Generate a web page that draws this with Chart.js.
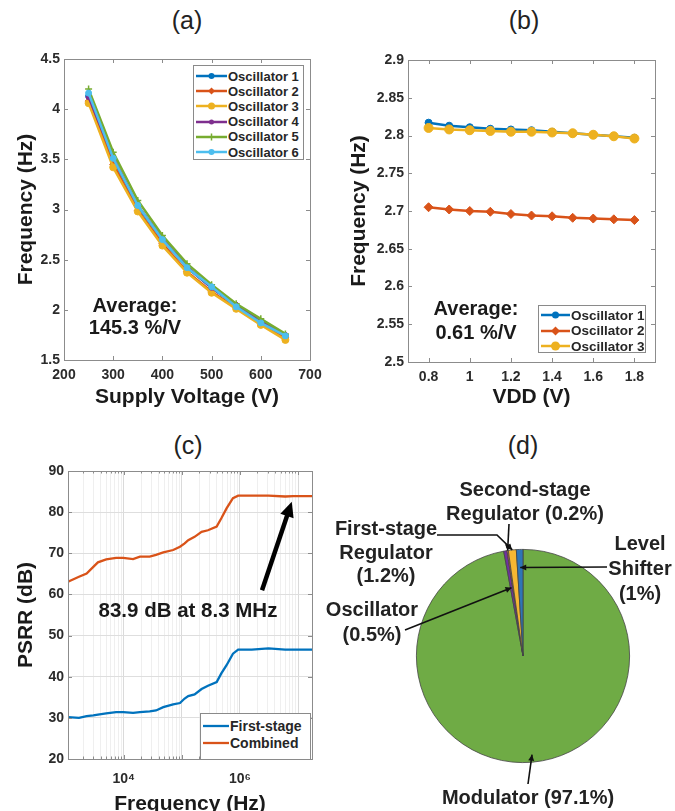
<!DOCTYPE html>
<html>
<head>
<meta charset="utf-8">
<script src="https://cdn.jsdelivr.net/npm/chart.js@4.4.1/dist/chart.umd.min.js"></script>
<style>
  html, body { margin: 0; padding: 0; background: #fff; }
  body { width: 675px; height: 811px; position: relative; overflow: hidden;
         font-family: "Liberation Sans", Arial, sans-serif; color: #1a1a1a; }
  .panel { position: absolute; }
  .ptitle { position: absolute; font-size: 25px; transform: translate(-50%, -50%); white-space: nowrap; color: #222; }
  .note { position: absolute; font-weight: bold; transform: translate(-50%, -50%); white-space: nowrap; text-align: center; color: #1a1a1a; }
  .legend { position: absolute; border: 1px solid #8a8a8a; background: #fff; box-sizing: border-box; font-weight: bold; color: #262626; }
  .legend .row { display: flex; align-items: center; white-space: nowrap; }
  .pielabel { position: absolute; font-weight: bold; font-size: 20px; text-align: center; transform: translate(-50%, -50%);
              line-height: 24px; white-space: nowrap; color: #222; }
</style>
</head>
<body>

<div class="ptitle" style="left:187px; top:20px">(a)</div>
<div class="ptitle" style="left:524px; top:20px">(b)</div>
<div class="ptitle" style="left:188px; top:445px">(c)</div>
<div class="ptitle" style="left:523px; top:445px">(d)</div>

<div class="panel" id="boxA" style="left:0px; top:40px; width:335px; height:370px"><canvas id="chartA"></canvas></div>
<div class="panel" id="boxB" style="left:340px; top:40px; width:335px; height:370px"><canvas id="chartB"></canvas></div>
<div class="panel" id="boxC" style="left:0px; top:440px; width:335px; height:380px"><canvas id="chartC"></canvas></div>
<div class="panel" id="boxD" style="left:340px; top:440px; width:335px; height:371px"><canvas id="chartD"></canvas></div>

<div class="note" style="left:135px; top:316px; font-size:20px; line-height:22px">Average:<br>145.3 %/V</div>
<div class="note" style="left:476px; top:320px; font-size:20px; line-height:24px">Average:<br>0.61 %/V</div>
<div class="note" style="left:188px; top:610px; font-size:20.5px">83.9 dB at 8.3 MHz</div>

<div class="pielabel" style="left:525px; top:501px">Second-stage<br>Regulator (0.2%)</div>
<div class="pielabel" style="left:386px; top:552px; line-height:23.5px">First-stage<br>Regulator<br>(1.2%)</div>
<div class="pielabel" style="left:372px; top:622px; line-height:25px">Oscillator<br>(0.5%)</div>
<div class="pielabel" style="left:640px; top:568px; line-height:25px">Level<br>Shifter<br>(1%)</div>
<div class="pielabel" style="left:528px; top:797px">Modulator (97.1%)</div>

<script>
// (a) frequency vs supply voltage
const supplyV = [250, 300, 350, 400, 450, 500, 550, 600, 650];
const oscA1 = [4.13, 3.50, 3.03, 2.70, 2.42, 2.22, 2.04, 1.88, 1.74];
const oscA2 = [4.08, 3.45, 2.99, 2.66, 2.38, 2.18, 2.02, 1.86, 1.72];
const oscA3 = [4.06, 3.42, 2.98, 2.64, 2.37, 2.17, 2.01, 1.85, 1.70];
const oscA4 = [4.12, 3.52, 3.04, 2.71, 2.43, 2.22, 2.05, 1.89, 1.75];
const oscA5 = [4.20, 3.57, 3.09, 2.74, 2.46, 2.25, 2.06, 1.91, 1.76];
const oscA6 = [4.16, 3.51, 3.04, 2.70, 2.42, 2.23, 2.03, 1.87, 1.74];
const aXTicks = [200, 300, 400, 500, 600, 700];
const aYTicks = [1.5, 2, 2.5, 3, 3.5, 4, 4.5];

// (b) frequency vs VDD
const vdd = [0.8, 0.9, 1.0, 1.1, 1.2, 1.3, 1.4, 1.5, 1.6, 1.7, 1.8];
const oscB1 = [2.817, 2.813, 2.811, 2.809, 2.808, 2.807, 2.805, 2.803, 2.801, 2.799, 2.797];
const oscB2 = [2.705, 2.702, 2.700, 2.699, 2.696, 2.694, 2.693, 2.691, 2.690, 2.689, 2.688];
const oscB3 = [2.810, 2.808, 2.807, 2.806, 2.805, 2.805, 2.804, 2.803, 2.801, 2.799, 2.796];
const bXTicks = [0.8, 1, 1.2, 1.4, 1.6, 1.8];
const bYTicks = [2.5, 2.55, 2.6, 2.65, 2.7, 2.75, 2.8, 2.85, 2.9];
const bYLabels = ['2.5', '2.55', '2.6', '2.65', '2.7', '2.75', '2.8', '2.85', '2.9'];

// (c) PSRR
const psrrFreq = [1100, 1700, 2300, 3000, 3600, 5000, 7400, 9800, 14500, 19000, 28000, 36000, 48000,
                  71000, 93000, 112000, 129000, 166000, 219000, 282000, 398000, 479000, 589000,
                  759000, 933000, 1.6e6, 3.1e6, 6e6, 8.3e6, 1.1e7, 1.74e7];
const psrrFirst = [30.2, 30.0, 30.4, 30.6, 30.8, 31.1, 31.4, 31.4, 31.2, 31.4, 31.6, 31.8, 32.6,
                   33.3, 33.6, 34.7, 35.3, 35.7, 37.0, 37.8, 38.7, 40.8, 42.8,
                   45.6, 46.6, 46.6, 46.9, 46.6, 46.6, 46.6, 46.6];
const psrrCombined = [63.1, 64.3, 65.1, 66.7, 67.8, 68.5, 68.9, 68.9, 68.6, 69.2, 69.2, 69.6, 70.2,
                      70.8, 71.6, 72.4, 73.2, 74.0, 75.2, 75.6, 76.5, 78.5, 80.9,
                      83.4, 84.0, 84.0, 84.0, 83.8, 83.9, 83.9, 83.9];
const cXTicks = [1e4, 1e6];
const cXTickLabels = ['10\u2074', '10\u2076'];
const cYTicks = [20, 30, 40, 50, 60, 70, 80, 90];
const arrowFrom = [2.4e6, 61];
const arrowTo = [7.8e6, 82.5];

// (d) power breakdown, clockwise from 12 o'clock
const pieLabels = ['Modulator', 'Oscillator', 'Second-stage Regulator', 'First-stage Regulator', 'Level Shifter'];
const piePct = [97.1, 0.5, 0.2, 1.2, 1.0];
const pieColors = ['#6fab45', '#7030a0', '#e8702a', '#f6b732', '#2e75b6'];
// leader line start points (page px) and how deep into the slice they reach
const pieLeaderPaths = [[[528, 784]], [[405, 630]], [[509, 524]], [[437, 535], [497, 535]], [[607, 567]]];
const pieLeaderDepth = [0.93, 0.65, 1.0, 1.0, 0.83];

const mColors = ['#0072BD', '#D95319', '#EDB120', '#7E2F8E', '#77AC30', '#4DBEEE'];

Chart.defaults.font.family = '"Liberation Sans", Arial, sans-serif';
Chart.defaults.color = '#2b2b2b';
Chart.defaults.animation = false;

function pts(xs, ys) {
    return xs.map((x, i) => ({ x: x, y: ys[i] }));
}

function fixedTicks(values) {
    return scale => { scale.ticks = values.map(v => ({ value: v, major: true })); };
}

function arrowHead(ctx, fx, fy, tx, ty, len, half) {
    const a = Math.atan2(ty - fy, tx - fx);
    ctx.beginPath();
    ctx.moveTo(tx, ty);
    ctx.lineTo(tx - len * Math.cos(a) + half * Math.sin(a), ty - len * Math.sin(a) - half * Math.cos(a));
    ctx.lineTo(tx - len * Math.cos(a) - half * Math.sin(a), ty - len * Math.sin(a) + half * Math.cos(a));
    ctx.closePath();
    ctx.fill();
}

// matlab style box with inward ticks
const frameTicks = {
    id: 'frameTicks',
    afterDraw(chart) {
        const { ctx, chartArea: a } = chart;
        const xs = chart.scales.x, ys = chart.scales.y;
        ctx.save();
        ctx.strokeStyle = '#8c8c8c';
        ctx.lineWidth = 1;
        ctx.beginPath();
        xs.ticks.forEach(t => {
            const px = Math.round(xs.getPixelForValue(t.value)) + 0.5;
            const len = t.major ? 4 : 2.5;
            ctx.moveTo(px, a.bottom); ctx.lineTo(px, a.bottom - len);
            ctx.moveTo(px, a.top); ctx.lineTo(px, a.top + len);
        });
        ys.ticks.forEach(t => {
            const py = Math.round(ys.getPixelForValue(t.value)) + 0.5;
            ctx.moveTo(a.left, py); ctx.lineTo(a.left + 4, py);
            ctx.moveTo(a.right, py); ctx.lineTo(a.right - 4, py);
        });
        ctx.stroke();
        ctx.strokeRect(Math.round(a.left) + 0.5, Math.round(a.top) + 0.5,
                       Math.round(a.right - a.left), Math.round(a.bottom - a.top));
        ctx.restore();
    }
};

const psrrArrow = {
    id: 'psrrArrow',
    afterDatasetsDraw(chart) {
        const { ctx, scales: { x, y } } = chart;
        const x0 = x.getPixelForValue(arrowFrom[0]), y0 = y.getPixelForValue(arrowFrom[1]);
        const x1 = x.getPixelForValue(arrowTo[0]), y1 = y.getPixelForValue(arrowTo[1]);
        const a = Math.atan2(y1 - y0, x1 - x0);
        ctx.save();
        ctx.strokeStyle = '#000';
        ctx.fillStyle = '#000';
        ctx.lineWidth = 4.5;
        ctx.beginPath();
        ctx.moveTo(x0, y0);
        ctx.lineTo(x1 - 12 * Math.cos(a), y1 - 12 * Math.sin(a));
        ctx.stroke();
        arrowHead(ctx, x0, y0, x1, y1, 15, 7);
        ctx.restore();
    }
};

const pieLeaders = {
    id: 'pieLeaders',
    afterDatasetsDraw(chart) {
        const { ctx } = chart;
        const box = chart.canvas.parentNode;
        const offX = box.offsetLeft, offY = box.offsetTop;
        const arcs = chart.getDatasetMeta(0).data;
        ctx.save();
        ctx.strokeStyle = '#111';
        ctx.fillStyle = '#111';
        ctx.lineWidth = 1.6;
        pieLeaderPaths.forEach((path, i) => {
            const p = arcs[i].getProps(['x', 'y', 'startAngle', 'endAngle', 'outerRadius'], true);
            const mid = (p.startAngle + p.endAngle) / 2;
            const r = p.outerRadius * pieLeaderDepth[i];
            const tx = p.x + r * Math.cos(mid), ty = p.y + r * Math.sin(mid);
            const q = path.map(([px, py]) => [px - offX, py - offY]);
            ctx.beginPath();
            ctx.moveTo(q[0][0], q[0][1]);
            q.slice(1).forEach(s => ctx.lineTo(s[0], s[1]));
            ctx.lineTo(tx, ty);
            ctx.stroke();
            const last = q[q.length - 1];
            arrowHead(ctx, last[0], last[1], tx, ty, 6, 3);
        });
        ctx.restore();
    }
};

function legendSwatch(ds, w) {
    const c = ds.borderColor, m = w / 2, r = ds.pointRadius;
    let mk = '';
    if (r > 0 && ds.pointStyle === 'rectRot') {
        mk = `<polygon points="${m},${5 - r} ${m + r},5 ${m},${5 + r} ${m - r},5" fill="${c}"/>`;
    } else if (r > 0 && ds.pointStyle === 'cross') {
        mk = `<path d="M${m - r} 5H${m + r}M${m} ${5 - r}V${5 + r}" stroke="${c}" stroke-width="1.5"/>`;
    } else if (r > 0) {
        mk = `<circle cx="${m}" cy="5" r="${r}" fill="${c}"/>`;
    }
    return `<svg width="${w}" height="10" style="margin-left:2px;margin-right:1px;flex:none">` +
        `<line x1="0" y1="5" x2="${w}" y2="5" stroke="${c}" stroke-width="${ds.borderWidth}"/>` + mk + `</svg>`;
}

function htmlLegend(chart, b) {
    const el = document.createElement('div');
    el.className = 'legend';
    Object.assign(el.style, {
        left: b.left + 'px', top: b.top + 'px', width: b.w + 'px', height: b.h + 'px',
        paddingTop: b.pad + 'px', fontSize: b.font + 'px'
    });
    chart.data.datasets.forEach(ds => {
        const row = document.createElement('div');
        row.className = 'row';
        row.style.height = b.row + 'px';
        row.innerHTML = legendSwatch(ds, b.sw) + `<span>${ds.label}</span>`;
        el.appendChild(row);
    });
    document.body.appendChild(el);
}

function lineSet(label, xs, ys, color, style, radius, order, width) {
    return {
        label: label, data: pts(xs, ys), borderColor: color, backgroundColor: color,
        borderWidth: width || 2.5, pointStyle: style, pointRadius: radius, pointBorderWidth: style === 'cross' ? 1.5 : 1,
        pointBorderColor: color, pointBackgroundColor: color, tension: 0, order: order
    };
}

function xyOptions(s) {
    return {
        responsive: true,
        maintainAspectRatio: false,
        devicePixelRatio: 1,
        layout: { padding: { top: s.padTop, right: s.padRight, left: 0, bottom: 0 } },
        plugins: { legend: { display: false }, tooltip: { enabled: false } },
        scales: {
            x: Object.assign({
                min: s.xMin, max: s.xMax,
                afterBuildTicks: s.xBuild,
                afterFit: sc => { sc.height = s.xH; },
                grid: s.xGrid || { display: false, drawTicks: false },
                border: { display: false },
                ticks: { autoSkip: false, maxRotation: 0, padding: s.xLabelPad, color: '#2b2b2b',
                         font: { size: 14, weight: 'bold' }, callback: s.xLabel },
                title: { display: true, text: s.xTitle, color: '#1a1a1a',
                         font: { size: 21, weight: 'bold' }, padding: { top: 0, bottom: s.xTitlePad } }
            }, s.xType ? { type: s.xType } : { type: 'linear' }),
            y: {
                min: s.yMin, max: s.yMax,
                afterBuildTicks: fixedTicks(s.yTicks),
                afterFit: sc => { sc.width = s.yW; },
                grid: s.yGrid || { display: false, drawTicks: false },
                border: { display: false },
                ticks: { autoSkip: false, padding: 4, color: '#2b2b2b',
                         font: { size: 14, weight: 'bold' }, callback: s.yLabel },
                title: { display: true, text: s.yTitle, color: '#1a1a1a',
                         font: { size: 21, weight: 'bold' }, padding: { top: s.yTitlePad, bottom: 0 } }
            }
        }
    };
}

// ---------- (a) ----------
const chartA = new Chart(document.getElementById('chartA'), {
    type: 'line',
    data: {
        datasets: [
            lineSet('Oscillator 1', supplyV, oscA1, mColors[0], 'circle', 3, 6),
            lineSet('Oscillator 2', supplyV, oscA2, mColors[1], 'rectRot', 3.5, 5),
            lineSet('Oscillator 3', supplyV, oscA3, mColors[2], 'circle', 3.5, 4),
            lineSet('Oscillator 4', supplyV, oscA4, mColors[3], 'circle', 2.5, 3),
            lineSet('Oscillator 5', supplyV, oscA5, mColors[4], 'cross', 3.5, 2),
            lineSet('Oscillator 6', supplyV, oscA6, mColors[5], 'circle', 3, 1)
        ]
    },
    options: xyOptions({
        padTop: 19, padRight: 25, xH: 50, yW: 64,
        xMin: 200, xMax: 700, xBuild: fixedTicks(aXTicks), xLabel: v => String(v), xLabelPad: 7,
        yMin: 1.5, yMax: 4.5, yTicks: aYTicks, yLabel: v => String(v),
        xTitle: 'Supply Voltage (V)', yTitle: 'Frequency (Hz)', xTitlePad: 0, yTitlePad: 14
    }),
    plugins: [frameTicks]
});
htmlLegend(chartA, { left: 193, top: 65, w: 111, h: 95, pad: 2.5, row: 15.2, font: 13, sw: 31 });

// ---------- (b) ----------
const chartB = new Chart(document.getElementById('chartB'), {
    type: 'line',
    data: {
        datasets: [
            lineSet('Oscillator 1', vdd, oscB1, mColors[0], 'circle', 3.5, 3),
            lineSet('Oscillator 2', vdd, oscB2, mColors[1], 'rectRot', 4.5, 2),
            lineSet('Oscillator 3', vdd, oscB3, mColors[2], 'circle', 4.5, 1)
        ]
    },
    options: xyOptions({
        padTop: 20, padRight: 20, xH: 48, yW: 68,
        xMin: 0.7, xMax: 1.9, xBuild: fixedTicks(bXTicks), xLabel: v => String(v), xLabelPad: 7,
        yMin: 2.5, yMax: 2.9, yTicks: bYTicks, yLabel: (v, i) => bYLabels[i],
        xTitle: 'VDD (V)', yTitle: 'Frequency (Hz)', xTitlePad: 0, yTitlePad: 7
    }),
    plugins: [frameTicks]
});
htmlLegend(chartB, { left: 538, top: 305, w: 108, h: 48, pad: 1.5, row: 15.5, font: 13.5, sw: 29 });

// ---------- (c) ----------
const chartC = new Chart(document.getElementById('chartC'), {
    type: 'line',
    data: {
        datasets: [
            lineSet('First-stage', psrrFreq, psrrFirst, mColors[0], 'circle', 0, 2, 2.3),
            lineSet('Combined', psrrFreq, psrrCombined, mColors[1], 'circle', 0, 1, 2.3)
        ]
    },
    options: xyOptions({
        padTop: 31, padRight: 23, xH: 61, yW: 68, xType: 'logarithmic',
        xMin: 1100, xMax: 1.74e7, xLabelPad: 12,
        xBuild: scale => {
            const t = [];
            for (let e = 3; e <= 7; e++) {
                for (let m = 1; m <= 9; m++) {
                    const v = m * Math.pow(10, e);
                    if (v >= scale.min && v <= scale.max) t.push({ value: v, major: m === 1 });
                }
            }
            scale.ticks = t;
        },
        xLabel: v => { const i = cXTicks.indexOf(v); return i >= 0 ? cXTickLabels[i] : ''; },
        xGrid: { drawTicks: false, lineWidth: 1, color: c => (c.tick && c.tick.major ? '#dadada' : '#efefef') },
        yMin: 20, yMax: 90, yTicks: cYTicks, yLabel: v => String(v),
        yGrid: { drawTicks: false, color: '#dedede' },
        xTitle: 'Frequency (Hz)', yTitle: 'PSRR (dB)', xTitlePad: 3, yTitlePad: 14
    }),
    plugins: [frameTicks, psrrArrow]
});
htmlLegend(chartC, { left: 200, top: 713, w: 111, h: 47, pad: 3, row: 17, font: 14, sw: 26 });

// ---------- (d) ----------
const chartD = new Chart(document.getElementById('chartD'), {
    type: 'pie',
    data: {
        labels: pieLabels,
        datasets: [{
            data: piePct,
            backgroundColor: pieColors,
            borderColor: '#444',
            borderWidth: 0.8,
            hoverOffset: 0
        }]
    },
    options: {
        responsive: true,
        maintainAspectRatio: false,
        devicePixelRatio: 1,
        layout: { padding: { left: 76, top: 109, right: 45, bottom: 48 } },
        plugins: { legend: { display: false }, tooltip: { enabled: false } }
    },
    plugins: [pieLeaders]
});
</script>
</body>
</html>
